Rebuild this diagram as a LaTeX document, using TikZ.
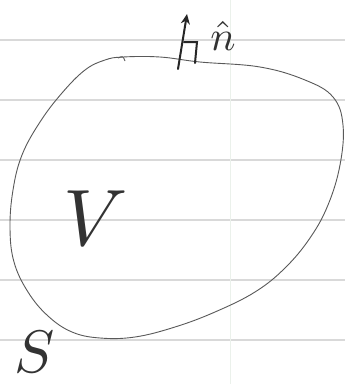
\documentclass[tikz,border=0pt]{standalone}
\usetikzlibrary{arrows.meta}
\begin{document}
\begin{tikzpicture}[x=1pt,y=-1pt,
  ruling/.style={draw=black!15, line width=1.6pt},
  margin/.style={draw=green!30!black!8, line width=1pt},
  outline/.style={draw=black!65, line width=0.9pt},
  pen/.style={draw=black!85, line width=2pt, line cap=round},
  handtext/.style={text=black!80, inner sep=0pt, transform shape}]
\useasboundingbox[fill=white] (0,0) rectangle (345,384);
% lined paper
\foreach \yy in {40,100,160,220,280,340} \draw[ruling] (0,\yy) -- (345,\yy);
\draw[margin] (230,0) -- (230,384);
% surface S
\draw[outline] plot[smooth cycle, tension=0.65] coordinates {
 (123,57) (160,57) (200,62) (260,67) (305,80) (333,97)
 (343,125) (340,165) (328,205) (310,238) (285,268) (255,292)
 (215,312) (175,327) (135,337) (100,338) (72,332) (48,316)
 (28,292) (14,262) (10,228) (13,190) (22,155) (40,122)
 (62,93) (85,70) (105,60)};
\draw[outline] (118,58) .. controls (123,56) .. (125,61);
% normal vector with right-angle mark
\coordinate (nbase) at (178,69);
\coordinate (ntip) at (187,14);
\coordinate (rA) at (184,42);
\coordinate (rB) at (197,42);
\coordinate (rC) at (195,63);
\draw[pen, -{Stealth[length=10pt,width=9pt]}] (nbase) -- (ntip);
\draw[pen] (rA) -- (rB) -- (rC);
\node[handtext, scale=4.2] (nhat) at (223,36) {$\hat{n}$};
% labels
\node[handtext, scale=8] (V) at (96,218) {$V$};
\node[handtext, scale=6] (S) at (35,352) {$S$};
\end{tikzpicture}
\end{document}
